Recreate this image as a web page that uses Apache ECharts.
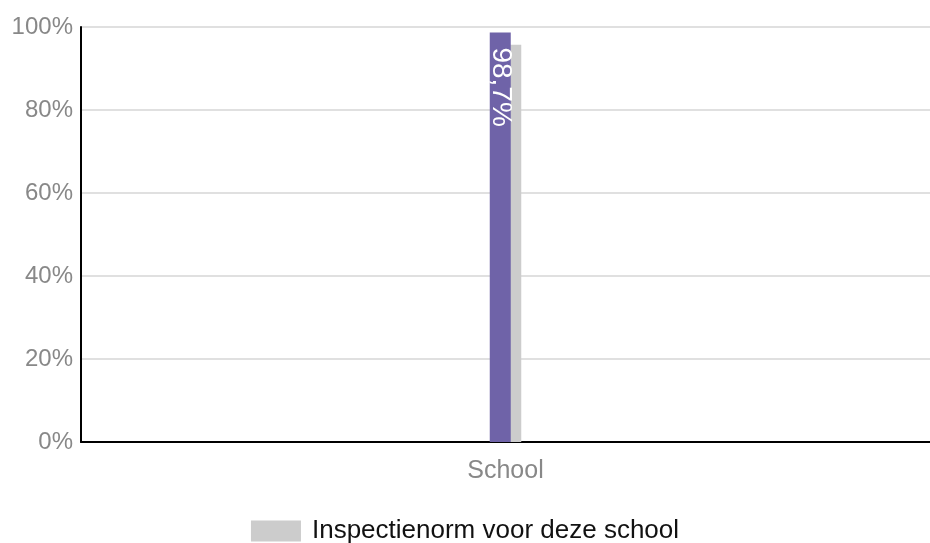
<!DOCTYPE html>
<html>
<head>
<meta charset="utf-8">
<script src="https://cdn.jsdelivr.net/npm/echarts@6/dist/echarts.min.js"></script>
<style>html,body{margin:0;padding:0;background:#fff}#c{width:930px;height:543px}</style>
</head>
<body>
<div id="c"></div>
<script>
var categories = ['School'];
var schoolValues = [98.7];
var normValues = [95.7];
var yTicks = [0, 20, 40, 60, 80, 100];
var seriesNames = ['School', 'Inspectienorm voor deze school'];

var chart = echarts.init(document.getElementById('c'));
chart.setOption({
  animation: false,
  textStyle: { fontFamily: 'Liberation Sans, Arial, sans-serif' },
  grid: { left: 81, right: 0, top: 27, bottom: 101, containLabel: false },
  legend: {
    data: [{ name: seriesNames[1], icon: 'rect' }],
    bottom: -6,
    left: 'center',
    itemWidth: 50,
    itemHeight: 21,
    itemGap: 10,
    textStyle: { fontSize: 26, color: '#111', padding: [0, 0, 0, 6] }
  },
  xAxis: {
    type: 'category',
    data: categories,
    axisLine: { lineStyle: { color: '#000', width: 2 } },
    axisTick: { show: false },
    axisLabel: { fontSize: 25, color: '#888', margin: 17 }
  },
  yAxis: {
    type: 'value',
    min: yTicks[0],
    max: yTicks[yTicks.length - 1],
    interval: 20,
    axisLine: { show: true, lineStyle: { color: '#000', width: 2 } },
    axisTick: { show: false },
    splitLine: { lineStyle: { color: '#e0e0e0', width: 2 } },
    axisLabel: { fontSize: 24, color: '#888', margin: 8, formatter: '{value}%' }
  },
  series: [
    {
      name: seriesNames[0],
      type: 'bar',
      data: schoolValues,
      barWidth: 21,
      barGap: '-50%',
      z: 3,
      itemStyle: { color: '#6f63a8' },
      label: {
        show: true,
        position: 'insideTop',
        rotate: -90,
        align: 'left',
        verticalAlign: 'middle',
        distance: 15,
        color: '#fff',
        fontSize: 28,
        formatter: function (p) { return String(p.value).replace('.', ',') + '%'; }
      }
    },
    {
      name: seriesNames[1],
      type: 'bar',
      data: normValues,
      barWidth: 21,
      z: 2,
      itemStyle: { color: '#cccccc' }
    }
  ]
});
</script>
</body>
</html>
